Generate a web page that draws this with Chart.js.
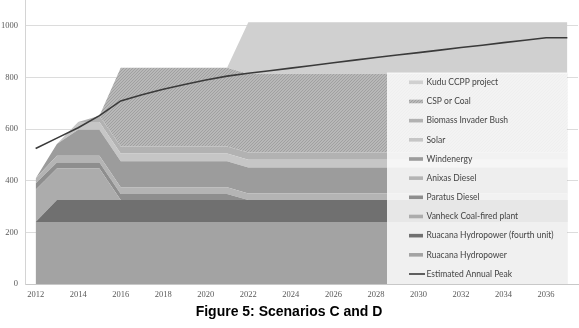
<!DOCTYPE html>
<html>
<head>
<meta charset="utf-8">
<script src="https://cdn.jsdelivr.net/npm/chart.js"></script>
<style>
  body { margin: 0; background: #fff; }
  #present { width: 579px; height: 328px; }
</style>
</head>
<body>
<div id="present"><canvas id="myAreaChart" width="579" height="328"></canvas></div>
<script>
// data (MW per year)
const years = [2012,2013,2014,2015,2016,2017,2018,2019,2020,2021,2022,2023,2024,2025,2026,2027,2028,2029,2030,2031,2032,2033,2034,2035,2036,2037];
const ruacana = [240,240,240,240,240,240,240,240,240,240,240,240,240,240,240,240,240,240,240,240,240,240,240,240,240,240];
const fourthUnit = [0,85,85,85,85,85,85,85,85,85,85,85,85,85,85,85,85,85,85,85,85,85,85,85,85,85];
const vanheck = [125,122,122,122,0,0,0,0,0,0,0,0,0,0,0,0,0,0,0,0,0,0,0,0,0,0];
const paratus = [24,24,24,24,24,24,24,24,24,24,0,0,0,0,0,0,0,0,0,0,0,0,0,0,0,0];
const anixas = [20,26,26,26,26,26,26,26,26,26,26,26,26,26,26,26,26,26,26,26,26,26,26,26,26,26];
const wind = [0,45,100,100,100,100,100,100,100,100,100,100,100,100,100,100,100,100,100,100,100,100,100,100,100,100];
const solar = [0,0,30,30,30,30,30,30,30,30,30,30,30,30,30,30,30,30,30,30,30,30,30,30,30,30];
const biomass = [0,0,0,25,28,28,28,28,28,28,28,28,28,28,28,28,28,28,28,28,28,28,28,28,28,28];
const csp = [0,0,0,0,305,305,305,305,305,305,305,305,305,305,305,305,305,305,305,305,305,305,305,305,305,305];
const kudu = [0,0,0,0,0,0,0,0,0,0,200,200,200,200,200,200,200,200,200,200,200,200,200,200,200,200];
const peak = [525,565,605,652,709,733,754,773,790,805,816,826,836,846,857,867,877,887,896,906,916,925,935,944,954,954];
const yTicks = [0,200,400,600,800,1000];
const xTicks = [2012,2014,2016,2018,2020,2022,2024,2026,2028,2030,2032,2034,2036];

function hatchPattern() {
  const c = document.createElement("canvas");
  c.width = 3; c.height = 3;
  const p = c.getContext("2d");
  p.fillStyle = "#b8b8b8";
  p.fillRect(0, 0, 3, 3);
  p.strokeStyle = "#a0a0a0";
  p.lineWidth = 1;
  p.beginPath();
  p.moveTo(0, 3); p.lineTo(3, 0);
  p.moveTo(-1, 1); p.lineTo(1, -1);
  p.moveTo(2, 4); p.lineTo(4, 2);
  p.stroke();
  return p.createPattern(c, "repeat");
}

function pts(arr) {
  return years.map(function(x, i) { return {x: x, y: arr[i]}; });
}

function area(label, arr, color, first) {
  return {
    label: label,
    data: pts(arr),
    backgroundColor: color,
    borderColor: color,
    borderWidth: 0,
    pointRadius: 0,
    fill: first ? "origin" : "-1",
    stack: "supply",
  };
}

const hatch = hatchPattern();
const datasets = [
  area("Ruacana Hydropower", ruacana, "#a3a3a3", true),
  area("Ruacana Hydropower (fourth unit)", fourthUnit, "#707070"),
  area("Vanheck Coal-fired plant", vanheck, "#acacac"),
  area("Paratus Diesel", paratus, "#8e8e8e"),
  area("Anixas Diesel", anixas, "#b4b4b4"),
  area("Windenergy", wind, "#9c9c9c"),
  area("Solar", solar, "#c6c6c6"),
  area("Biomass Invader Bush", biomass, "#b2b2b2"),
  area("CSP or Coal", csp, hatch),
  area("Kudu CCPP project", kudu, "#d0d0d0"),
  {
    label: "Estimated Annual Peak",
    data: pts(peak),
    borderColor: "#3a3a3a",
    backgroundColor: "#3a3a3a",
    borderWidth: 1.6,
    pointRadius: 0,
    fill: false,
    stack: "peak",
    order: -1,
  },
];

// legend sits inside the plot, drawn over the areas
const legendBox = {
  id: "legendBox",
  afterDraw(chart) {
    const ctx = chart.ctx;
    ctx.save();
    ctx.fillStyle = "rgba(255,255,255,0.83)";
    ctx.fillRect(387, 72.5, 180, 211.5);
    const order = [9, 8, 7, 6, 5, 4, 3, 2, 1, 0, 10];
    ctx.font = "8.5px Lato";
    ctx.textBaseline = "middle";
    order.forEach(function(idx, row) {
      const ds = chart.data.datasets[idx];
      const y = 82.3 + row * 19.17;
      if (idx === 10) {
        ctx.strokeStyle = ds.borderColor;
        ctx.lineWidth = 1.6;
        ctx.beginPath();
        ctx.moveTo(409, y);
        ctx.lineTo(425, y);
        ctx.stroke();
      } else {
        ctx.fillStyle = ds.backgroundColor;
        ctx.fillRect(409, y - 1.8, 14, 3.6);
      }
      ctx.fillStyle = "#444444";
      ctx.fillText(ds.label, 426.5, y);
    });
    ctx.restore();
  }
};

const ctx = document.getElementById("myAreaChart").getContext("2d");
const myAreaChart = new Chart(ctx, {
  type: "line",
  data: { datasets: datasets },
  plugins: [legendBox],
  options: {
    responsive: false,
    animation: false,
    layout: { padding: { left: 0, right: 1, top: 0, bottom: 3 } },
    elements: { line: { tension: 0 } },
    plugins: {
      legend: { display: false },
      tooltip: { enabled: false },
      title: {
        display: true,
        position: "bottom",
        text: "Figure 5: Scenarios C and D",
        color: "#000",
        font: { family: "Liberation Sans", size: 14, weight: "bold" },
        padding: { top: 4, bottom: 4 },
      },
    },
    scales: {
      x: {
        type: "linear",
        min: 2011.5,
        max: 2037.5,
        grid: { display: false, drawTicks: false },
        border: { display: true, color: "#c8c8c8" },
        ticks: {
          padding: 6,
          color: "#595959",
          font: { family: "Liberation Serif", size: 8.5 },
          callback: function(v) { return String(v); },
        },
        afterBuildTicks: function(scale) {
          scale.ticks = xTicks.map(function(v) { return {value: v}; });
        },
        afterFit: function(scale) {
          scale.height = 16.2;
          scale.paddingLeft = 0;
          scale.paddingRight = 0;
        },
      },
      y: {
        stacked: true,
        min: 0,
        max: 1100,
        grid: { color: "#dcdcdc", drawTicks: false },
        border: { display: true, color: "#d4d4d4" },
        ticks: {
          padding: 7,
          color: "#595959",
          font: { family: "Liberation Serif", size: 8.5 },
          callback: function(v) { return String(v); },
        },
        afterBuildTicks: function(scale) {
          scale.ticks = yTicks.map(function(v) { return {value: v}; });
        },
        afterFit: function(scale) {
          scale.width = 25;
          scale.paddingTop = 0;
          scale.paddingBottom = 0;
        },
      },
    },
  },
});
</script>
</body>
</html>
